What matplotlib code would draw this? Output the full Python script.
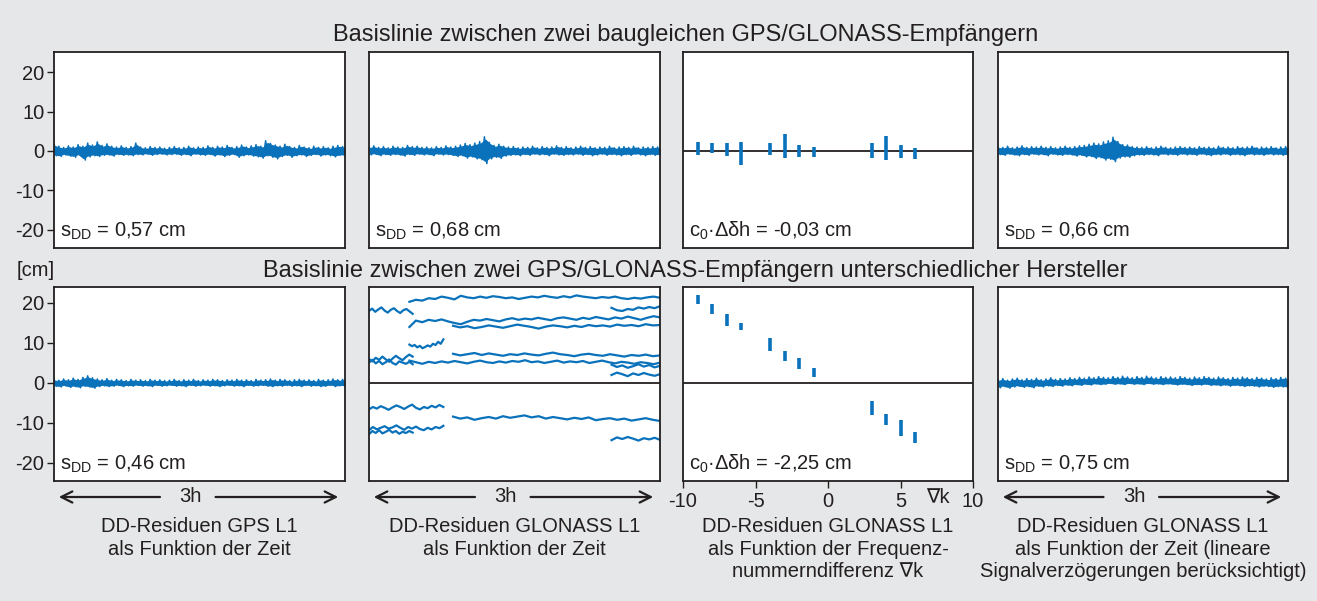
import numpy as np
import matplotlib
matplotlib.use('Agg')
import matplotlib.pyplot as plt
from matplotlib.patches import FancyArrowPatch

plt.rcParams['font.family'] = ['Liberation Sans', 'DejaVu Sans']
plt.rcParams['mathtext.fontset'] = 'custom'
plt.rcParams['mathtext.rm'] = 'Liberation Sans'
plt.rcParams['mathtext.it'] = 'Liberation Sans:italic'

BLUE = '#0a72bb'
BG = '#e6e7e8'
EDGE = '#231f20'

W, H = 1317, 601

### Daten (cm), Zeitachse 0..180 min
# Bänder (obere / untere Hüllkurve) der Residuen
gps_top_up = [1.8, 1.2, 0.9, 1.3, 1.0, 1.6, 1.2, 2.0, 1.5, 2.3, 1.4, 1.8, 1.2, 1.0, 1.3, 0.9, 1.1, 2.0, 1.0, 0.8,
              1.1, 0.9, 1.0, 0.7, 0.9, 1.1, 0.8, 0.9, 1.2, 0.8, 1.0, 0.9, 1.3, 0.9, 1.2, 1.0, 1.4, 0.9, 1.1, 1.5,
              1.0, 1.3, 1.6, 1.2, 2.6, 1.9, 1.5, 1.2, 1.7, 1.1, 0.9, 1.4, 1.0, 0.8, 1.2, 0.9, 1.1, 0.8, 1.2, 1.4, 1.1]
gps_top_lo = [-1.2, -1.4, -1.0, -1.3, -1.6, -1.1, -2.3, -1.5, -1.2, -1.4, -1.1, -1.0, -1.3, -0.9, -1.1, -1.0, -1.2, -0.9,
              -1.0, -0.8, -1.1, -0.9, -0.8, -1.0, -0.9, -0.8, -1.1, -0.9, -1.2, -0.8, -1.0, -1.1, -0.9, -1.3, -1.0, -1.4,
              -1.1, -0.9, -1.6, -1.2, -1.0, -1.3, -1.5, -1.8, -1.2, -1.6, -2.0, -1.4, -1.1, -1.6, -1.2, -1.0, -1.4, -1.1,
              -0.9, -1.3, -1.0, -1.2, -1.5, -1.1, -1.3]
glo_top_up = [1.0, 1.3, 0.9, 1.1, 0.8, 1.2, 1.0, 0.9, 1.4, 1.1, 1.2, 0.9, 1.0, 0.8, 1.1, 0.9, 1.3, 1.0, 1.2, 1.5,
              1.9, 1.6, 2.0, 2.4, 3.6, 2.2, 1.4, 1.7, 1.2, 1.0, 1.1, 0.8, 1.0, 0.9, 1.2, 0.8, 1.1, 0.9, 1.0, 1.3,
              0.9, 1.1, 0.8, 1.0, 1.2, 0.9, 1.1, 0.8, 1.0, 0.9, 1.2, 0.8, 1.0, 1.1, 0.9, 1.2, 0.8, 1.0, 0.9, 1.1, 1.0]
glo_top_lo = [-1.0, -0.8, -1.2, -0.9, -1.1, -0.9, -1.0, -1.3, -0.9, -1.1, -0.8, -1.0, -0.9, -1.2, -0.8, -1.0, -0.9, -1.1,
              -1.4, -1.2, -1.8, -1.5, -2.0, -2.2, -3.2, -2.0, -1.6, -1.9, -1.3, -1.1, -1.0, -1.2, -0.9, -1.1, -0.8, -1.0,
              -0.9, -1.2, -0.8, -1.0, -1.1, -0.9, -1.0, -0.8, -1.1, -0.9, -1.2, -1.0, -0.8, -1.1, -0.9, -1.0, -1.2, -0.9,
              -1.1, -0.8, -1.0, -1.2, -0.9, -1.1, -1.0]
lin_top_up = [1.1, 0.9, 1.2, 0.8, 1.0, 1.3, 0.9, 1.1, 1.0, 1.2, 0.9, 1.1, 0.8, 1.0, 1.2, 0.9, 1.1, 1.3, 1.4, 1.7,
              2.0, 1.8, 2.3, 2.6, 3.5, 2.4, 1.6, 1.5, 1.1, 1.0, 0.9, 1.1, 0.8, 1.0, 1.2, 0.9, 0.8, 1.0, 1.1, 0.9,
              1.0, 0.8, 1.1, 0.9, 1.0, 0.8, 1.2, 0.9, 1.0, 0.8, 1.1, 0.9, 1.0, 1.2, 0.8, 1.0, 0.9, 1.1, 0.8, 1.0, 1.1]
lin_top_lo = [-0.9, -1.1, -0.8, -1.0, -1.2, -0.9, -1.1, -0.8, -1.0, -0.9, -1.2, -0.8, -1.0, -1.1, -0.9, -1.0, -1.3, -1.1,
              -1.5, -1.4, -1.9, -1.7, -2.3, -2.1, -2.7, -1.8, -1.5, -1.6, -1.2, -1.0, -1.1, -0.9, -1.0, -1.2, -0.8, -1.0,
              -0.9, -1.1, -0.8, -1.0, -0.9, -1.1, -0.8, -1.0, -1.2, -0.9, -1.0, -0.8, -1.1, -0.9, -1.0, -1.2, -0.8, -1.0,
              -0.9, -1.1, -0.8, -1.0, -0.9, -1.1, -1.0]
gps_bot_up = [0.9, 0.7, 1.0, 0.8, 1.2, 0.9, 1.4, 1.8, 1.3, 1.0, 0.8, 1.1, 0.7, 0.9, 0.8, 0.6, 0.9, 0.7, 0.8, 0.6,
              0.9, 0.7, 0.8, 0.6, 0.7, 0.9, 0.6, 0.8, 0.7, 0.9, 0.6, 0.8, 0.7, 0.9, 0.8, 0.6, 0.8, 0.7, 0.9, 0.7,
              0.8, 0.6, 0.9, 0.7, 0.8, 1.0, 0.7, 0.9, 0.8, 0.6, 0.8, 0.9, 0.7, 0.8, 0.6, 0.9, 0.7, 0.8, 1.0, 0.8, 0.9]
gps_bot_lo = [-0.8, -1.0, -0.7, -1.1, -0.9, -1.2, -0.8, -1.0, -1.3, -0.9, -0.7, -0.9, -0.8, -0.6, -0.9, -0.7, -0.8, -0.6,
              -0.8, -0.7, -0.9, -0.6, -0.8, -0.7, -0.6, -0.8, -0.7, -0.9, -0.6, -0.8, -0.7, -0.6, -0.8, -0.7, -0.9, -0.7,
              -0.6, -0.8, -0.7, -0.9, -0.6, -0.8, -0.7, -0.6, -0.8, -0.9, -0.7, -0.8, -0.6, -0.8, -0.7, -0.9, -0.6, -0.8,
              -0.7, -0.9, -0.8, -0.6, -0.9, -0.7, -0.8]
lin_bot_up = [0.8, 1.1, 0.7, 1.0, 1.2, 0.8, 1.1, 0.9, 1.2, 0.8, 1.0, 1.3, 0.9, 1.1, 1.0, 1.3, 1.1, 1.4, 1.2, 1.5,
              1.3, 1.6, 1.4, 1.3, 1.6, 1.4, 1.7, 1.5, 1.3, 1.6, 1.4, 1.7, 1.5, 1.3, 1.6, 1.4, 1.5, 1.3, 1.6, 1.4,
              1.2, 1.5, 1.3, 1.6, 1.4, 1.2, 1.5, 1.3, 1.1, 1.4, 1.2, 1.5, 1.3, 1.1, 1.4, 1.2, 1.0, 1.3, 1.1, 1.4, 1.2]
lin_bot_lo = [-1.2, -0.9, -1.3, -1.0, -0.8, -1.1, -0.9, -1.2, -0.8, -1.0, -0.7, -0.9, -0.6, -0.8, -0.5, -0.7, -0.4, -0.6,
              -0.3, -0.5, -0.2, -0.4, -0.3, -0.1, -0.3, -0.2, -0.4, -0.1, -0.3, -0.2, -0.4, -0.1, -0.3, -0.2, -0.4, -0.2,
              -0.3, -0.5, -0.3, -0.4, -0.6, -0.4, -0.5, -0.3, -0.6, -0.5, -0.7, -0.5, -0.8, -0.6, -0.7, -0.9, -0.7, -0.8,
              -1.0, -0.8, -0.9, -1.1, -0.9, -1.0, -1.2]

# GLONASS-Residuen, unterschiedliche Hersteller: (Start min, Ende min, Werte)
glo_tracks = [
    (0, 27, [18.0, 18.6, 17.8, 18.4, 18.9, 18.1, 17.6, 18.3, 18.7, 18.0, 17.5, 18.2, 18.5, 17.9, 17.3]),
    (25, 180, [20.3, 20.8, 20.6, 21.2, 21.0, 21.6, 21.3, 20.9, 21.8, 21.4, 21.2, 21.6, 21.3, 21.7, 21.5, 21.2, 21.4,
               21.0, 21.3, 21.6, 21.4, 21.8, 21.5, 21.3, 21.7, 21.4, 21.9, 21.6, 21.4, 21.2, 21.5, 21.3, 21.6, 21.2,
               21.0, 21.3, 21.1, 21.4, 21.6, 21.3]),
    (25, 180, [14.0, 15.6, 15.2, 15.8, 15.5, 15.9, 15.4, 15.0, 14.7, 15.3, 15.8, 15.6, 16.0, 15.7, 15.4, 15.9, 16.2,
               15.8, 16.1, 15.9, 16.3, 16.0, 15.7, 16.2, 16.4, 16.1, 15.8, 16.3, 16.0, 16.5, 16.2, 15.9, 16.4, 16.1,
               16.6, 16.2, 15.8, 16.3, 16.7, 16.4]),
    (52, 180, [14.3, 13.9, 14.2, 13.7, 14.0, 14.4, 14.1, 13.8, 14.2, 14.6, 14.3, 14.0, 13.6, 14.1, 14.4, 14.2, 13.9,
               14.3, 14.0, 14.5, 14.2, 14.4, 14.1, 14.6, 14.3, 14.5, 14.2, 14.7, 14.4, 14.5]),
    (150, 180, [18.8, 18.2, 18.0, 18.5, 18.3, 18.9, 18.6, 19.0, 18.7, 19.2]),
    (25, 46, [9.6, 9.2, 9.5, 8.9, 9.3, 8.7, 9.0, 9.4, 9.1, 9.8, 9.5, 10.3, 9.8, 10.9]),
    (0, 27, [6.0, 5.4, 6.3, 5.8, 6.6, 5.9, 5.3, 6.1, 6.8, 6.2, 5.7, 6.5, 7.1, 6.6]),
    (0, 27, [5.1, 5.8, 4.9, 5.5, 4.7, 5.2, 5.9, 5.0, 4.6, 5.4, 5.1, 4.8, 5.3, 4.7]),
    (25, 180, [5.6, 5.2, 4.8, 5.3, 5.0, 5.4, 5.1, 5.5, 5.2, 4.9, 5.3, 5.6, 5.2, 5.0, 5.4, 5.1, 5.5, 5.3, 5.7, 5.2,
               5.4, 5.0, 5.3, 5.6, 5.1, 5.4, 5.2, 5.5, 5.0, 5.3, 5.6, 5.2, 4.9, 5.3, 5.1, 4.8, 5.2, 5.0, 4.7, 5.1]),
    (52, 180, [7.3, 6.9, 7.2, 7.5, 7.0, 7.4, 7.1, 6.8, 7.2, 7.0, 7.4, 7.1, 6.9, 7.3, 7.6, 7.2, 7.0, 6.7, 7.1, 7.3,
               7.0, 6.8, 7.2, 6.9, 6.6, 7.0, 6.8, 7.1, 6.7, 6.9]),
    (150, 180, [4.6, 4.0, 4.4, 3.8, 4.2, 4.7, 4.1, 4.5, 3.9, 4.3]),
    (150, 180, [2.0, 2.6, 2.2, 1.7, 2.4, 2.0, 2.5, 2.1, 1.8, 2.2]),
    (0, 46, [-6.6, -6.0, -6.4, -5.8, -6.2, -6.7, -6.1, -5.6, -6.0, -6.5, -5.9, -5.4, -6.2, -6.6, -6.0, -6.3, -5.7,
             -6.1, -5.5, -6.0]),
    (0, 46, [-11.8, -11.0, -11.6, -11.2, -10.8, -11.4, -11.1, -10.6, -11.2, -11.7, -11.0, -11.4, -10.9, -11.5,
             -11.8, -11.2, -11.6, -11.0, -11.3, -10.7]),
    (0, 27, [-12.8, -12.0, -12.5, -11.8, -12.6, -12.2, -11.7, -12.4, -12.0, -12.7, -12.2, -12.5, -12.0, -12.4]),
    (52, 180, [-8.4, -8.9, -8.6, -9.2, -8.8, -8.5, -8.9, -8.3, -8.7, -8.4, -8.1, -8.6, -8.3, -8.9, -8.5, -8.8, -9.1,
               -8.7, -9.0, -8.6, -9.3, -9.0, -8.8, -9.2, -8.9, -9.4, -9.1, -8.8, -9.2, -9.5]),
    (150, 180, [-14.3, -13.6, -14.0, -13.5, -13.9, -14.4, -13.8, -14.1, -13.7, -14.2]),
]

# Residuen als Funktion der Frequenznummerndifferenz
dk = [-9, -8, -7, -6, -4, -3, -2, -1, 3, 4, 5, 6]
dk_top_max = [2.4, 1.9, 2.1, 2.4, 2.1, 4.2, 1.4, 1.0, 1.9, 3.7, 1.6, 0.8]
dk_top_min = [-1.1, -0.5, -1.3, -3.5, -1.0, -1.8, -1.6, -1.5, -1.8, -2.2, -1.8, -2.1]
dk_bot_max = [22.1, 19.7, 17.3, 15.1, 11.3, 8.1, 6.3, 3.8, -4.6, -7.7, -9.3, -12.2]
dk_bot_min = [19.8, 17.2, 14.2, 13.2, 8.0, 5.4, 3.6, 1.5, -7.9, -10.4, -13.3, -15.0]

labels_top = ['$\\mathregular{s_{DD}}$ = 0,57 cm', '$\\mathregular{s_{DD}}$ = 0,68 cm',
              '$\\mathregular{c_0}$·Δδh = -0,03 cm', '$\\mathregular{s_{DD}}$ = 0,66 cm']
labels_bot = ['$\\mathregular{s_{DD}}$ = 0,46 cm', '',
              '$\\mathregular{c_0}$·Δδh = -2,25 cm', '$\\mathregular{s_{DD}}$ = 0,75 cm']
captions = ['DD-Residuen GPS L1\nals Funktion der Zeit',
            'DD-Residuen GLONASS L1\nals Funktion der Zeit',
            'DD-Residuen GLONASS L1\nals Funktion der Frequenz-\nnummerndifferenz ∇k',
            'DD-Residuen GLONASS L1\nals Funktion der Zeit (lineare\nSignalverzögerungen berücksichtigt)']

### Layout (Pixel)
cols = [(54, 345), (369, 660), (683, 973), (998, 1288)]
rows = [(52, 248, (-24.6, 25.1)), (287, 481, (-24.5, 24.0))]
FS = 14.5

fig = plt.figure(figsize=(W / 100, H / 100), dpi=100)
fig.patch.set_facecolor(BG)


def px_axes(x0, x1, y0, y1):
    return fig.add_axes([x0 / W, 1 - y1 / H, (x1 - x0) / W, (y1 - y0) / H])


axes = []
for r, (y0, y1, ylim) in enumerate(rows):
    row = []
    for c, (x0, x1) in enumerate(cols):
        ax = px_axes(x0, x1, y0, y1)
        ax.set_facecolor('white')
        ax.set_ylim(*ylim)
        if c == 2:
            ax.set_xlim(-10, 10)
        else:
            ax.set_xlim(0, 180)
        for s in ax.spines.values():
            s.set_color(EDGE)
            s.set_linewidth(1.3)
        ax.set_xticks([])
        if c == 0:
            ax.set_yticks([-20, -10, 0, 10, 20])
            ax.set_yticklabels(['-20', '-10', '0', '10', '20'])
            ax.tick_params(axis='y', direction='out', length=5, width=1, colors=EDGE,
                           labelsize=FS, labelcolor=EDGE, pad=2)
        else:
            ax.set_yticks([])
        row.append(ax)
    axes.append(row)


def band(ax, up, lo):
    # Rauschband: Hülle füllen und zwischen oberen und unteren Werten hin und her zeichnen
    t = np.linspace(0, 180, len(up))
    ax.fill_between(t, np.array(lo) * 0.85, np.array(up) * 0.85, color=BLUE, lw=0)
    tz = np.linspace(0, 180, 2 * len(up))
    zz = np.ravel(np.column_stack([up, lo]))
    ax.plot(tz, zz, color=BLUE, lw=1.1)


band(axes[0][0], gps_top_up, gps_top_lo)
band(axes[0][1], glo_top_up, glo_top_lo)
band(axes[0][3], lin_top_up, lin_top_lo)
band(axes[1][0], gps_bot_up, gps_bot_lo)
band(axes[1][3], lin_bot_up, lin_bot_lo)

ax = axes[1][1]
ax.axhline(0, color=EDGE, lw=1.3)
for t0, t1, vals in glo_tracks:
    ax.plot(np.linspace(t0, t1, len(vals)), vals, color=BLUE, lw=1.6)

for ax, vmax, vmin in [(axes[0][2], dk_top_max, dk_top_min), (axes[1][2], dk_bot_max, dk_bot_min)]:
    ax.axhline(0, color=EDGE, lw=1.3)
    ax.vlines(dk, vmin, vmax, color=BLUE, lw=2.6)

ax = axes[1][2]
ax.set_xticks([-10, -5, 0, 5, 10])
ax.set_xticklabels(['-10', '-5', '0', '5', '10'])
ax.tick_params(axis='x', direction='out', length=5, width=1, colors=EDGE, labelsize=FS, pad=3)
ax.text(7.6, -26.3, '∇k', fontsize=FS, ha='center', va='top', color=EDGE)

for r, labs in enumerate([labels_top, labels_bot]):
    for c, lab in enumerate(labs):
        if lab:
            axes[r][c].text(0.02, 0.03, lab, transform=axes[r][c].transAxes,
                            fontsize=FS, ha='left', va='bottom', color=EDGE)

# Titel
fig.text(686 / W, 1 - 35 / H, 'Basislinie zwischen zwei baugleichen GPS/GLONASS-Empfängern',
         fontsize=17, ha='center', va='center', color=EDGE)
fig.text(695 / W, 1 - 271 / H, 'Basislinie zwischen zwei GPS/GLONASS-Empfängern unterschiedlicher Hersteller',
         fontsize=17, ha='center', va='center', color=EDGE)
fig.text(17 / W, 1 - 271 / H, '[cm]', fontsize=FS, ha='left', va='center', color=EDGE)

# Zeitpfeile 3h
for c in [0, 1, 3]:
    x0, x1 = cols[c]
    cx = x0 + 0.47 * (x1 - x0)
    yy = 1 - 497 / H
    fig.text(cx / W, yy, '3h', fontsize=FS, ha='center', va='center', color=EDGE)
    for a, b in [(cx - 28, x0 + 2), (cx + 22, x1 - 4)]:
        fig.add_artist(FancyArrowPatch((a / W, yy), (b / W, yy), transform=fig.transFigure,
                                       arrowstyle='->', mutation_scale=20, lw=1.6, color=EDGE))

# Beschriftungen
for c, cap in enumerate(captions):
    x0, x1 = cols[c]
    fig.text((x0 + x1) / 2 / W, 1 - 517 / H, cap, fontsize=FS, ha='center', va='top',
             color=EDGE, linespacing=1.24)

fig.savefig('out.png', dpi=100, facecolor=BG)
